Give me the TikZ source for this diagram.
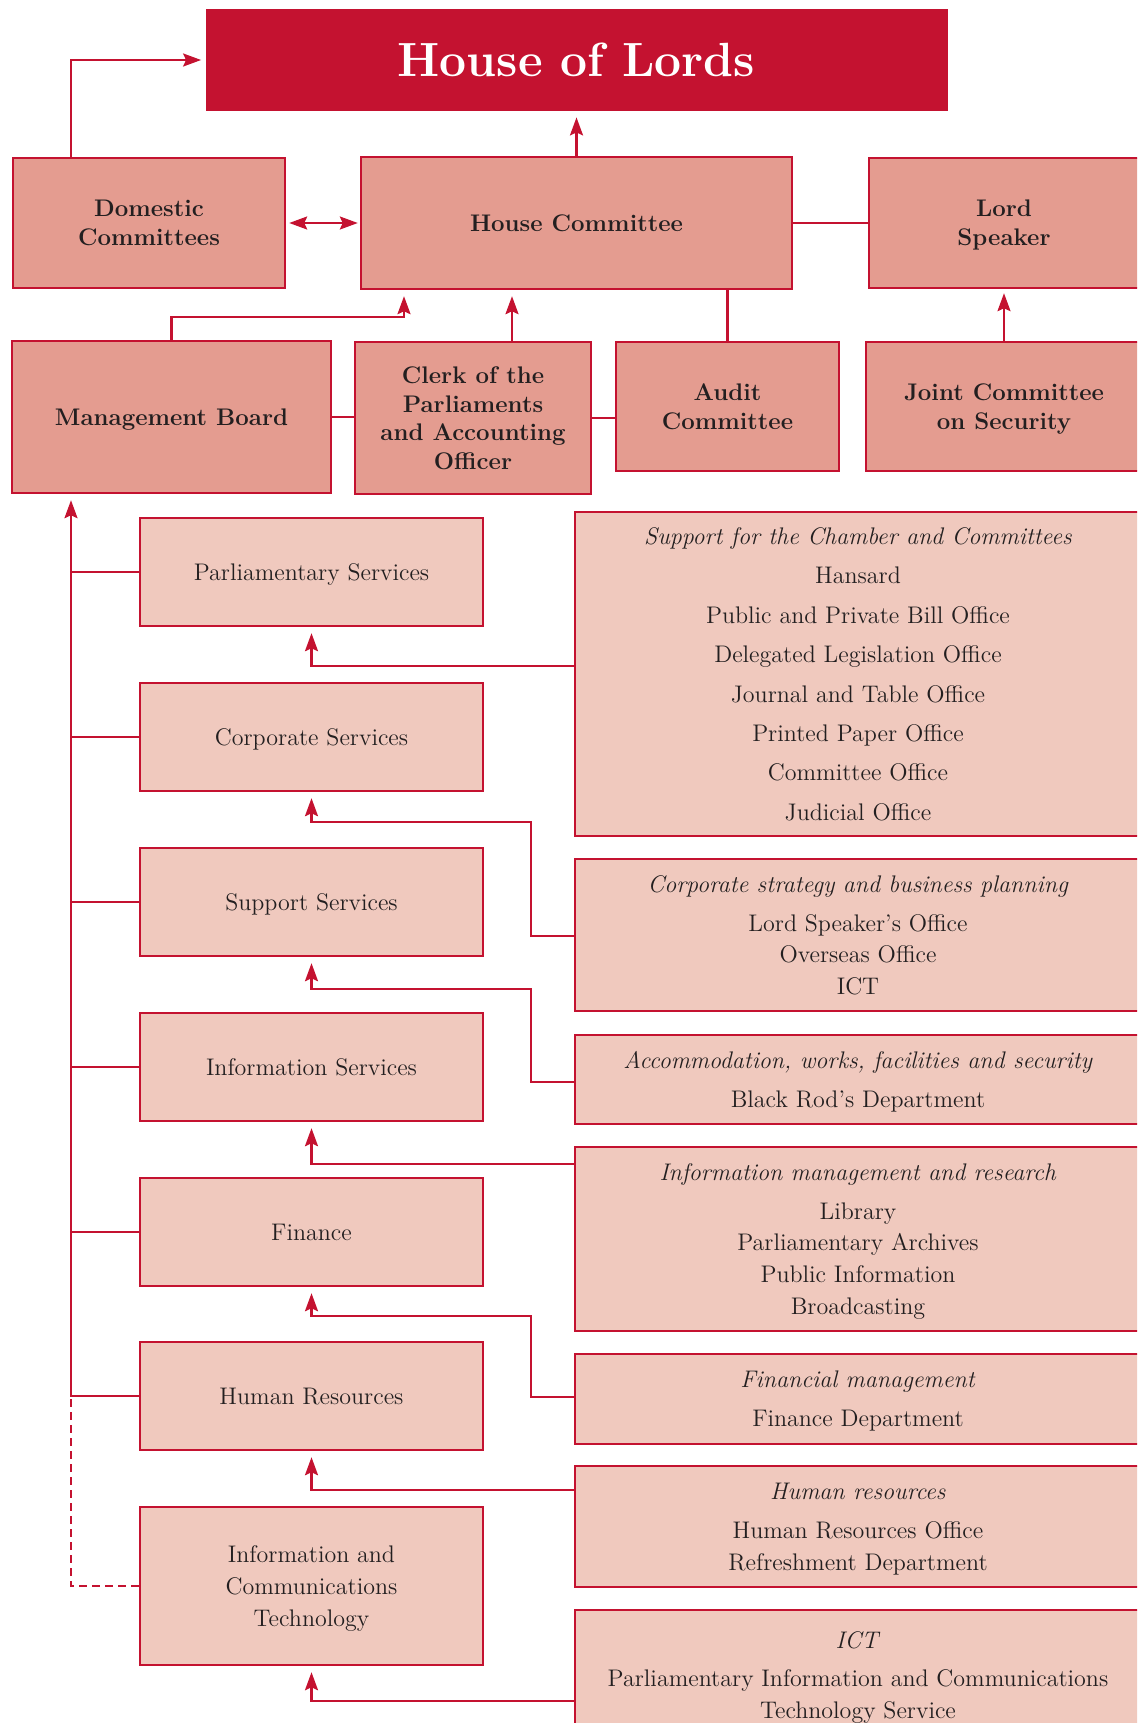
\documentclass[tikz,border=0pt]{standalone}
\usepackage{tikz}
\usetikzlibrary{positioning,calc,arrows.meta}
\definecolor{lordsred}{RGB}{196,18,48}
\definecolor{topfill}{RGB}{228,156,144}
\definecolor{subfill}{RGB}{240,201,190}
\definecolor{inktext}{RGB}{35,31,32}
\tikzset{
  topbox/.style={draw=lordsred,line width=1.2pt,fill=topfill,text=inktext,align=center,inner sep=0pt,text depth=0pt,font=\fontsize{12}{14.4}\selectfont\bfseries},
  unitbox/.style={draw=lordsred,line width=1.2pt,fill=subfill,text=inktext,align=center,inner sep=0pt,text depth=0pt,minimum width=171.5pt,font=\fontsize{12}{15.9}\selectfont},
  groupbox/.style={unitbox,minimum width=283pt},
  link/.style={draw=lordsred,line width=1.15pt},
  redtip/.tip={Stealth[length=9pt,width=6.5pt,inset=1.5pt]},
  arr/.style={link,-redtip,shorten >=3pt}
}
\begin{document}
\begin{tikzpicture}[x=0.5pt,y=-0.5pt]
  \useasboundingbox (0,0) rectangle (1137,1723);
  \clip (0,0) rectangle (1137,1723);
  \node[fill=lordsred,minimum width=371pt,minimum height=51pt,text=white,font=\fontsize{24}{28}\selectfont\bfseries] (hol) at (576.5,60) {House of Lords};
  \node[topbox,minimum width=136pt,minimum height=65pt] (dom) at (149,223) {Domestic\\Committees};
  \node[topbox,minimum width=215.5pt,minimum height=66pt] (hc) at (576.5,223) {House Committee};
  \node[topbox,minimum width=135pt,minimum height=65pt] (ls) at (1004,223) {Lord\\Speaker};
  \node[topbox,minimum width=159.5pt,minimum height=76pt] (mb) at (171.5,417) {Management Board};
  \node[topbox,minimum width=118pt,minimum height=76pt] (clerk) at (473,418) {Clerk of the\\Parliaments\\and Accounting\\Officer};
  \node[topbox,minimum width=111.5pt,minimum height=64.5pt] (audit) at (727.5,406.5) {Audit\\Committee};
  \node[topbox,minimum width=138pt,minimum height=64.5pt] (jcs) at (1004,406.5) {Joint Committee\\on Security};
  \foreach \n/\y/\t in {ps/572/Parliamentary Services,cs/737/Corporate Services,ss/902/Support Services,is/1067/Information Services,fin/1232/Finance,hr/1396/Human Resources}
    {\node[unitbox,minimum height=54pt] (\n) at (311.5,\y) {\t};}
  \node[unitbox,minimum height=79pt] (ict) at (311.5,1586) {Information and\\Communications\\Technology};
  \node[groupbox,minimum height=162pt,font=\fontsize{12}{19.7}\selectfont] (r1) at (858,674) {\textit{Support for the Chamber and Committees}\\Hansard\\Public and Private Bill Office\\Delegated Legislation Office\\Journal and Table Office\\Printed Paper Office\\Committee Office\\Judicial Office};
  \node[groupbox,minimum height=76pt] (r2) at (858,935) {\textit{Corporate strategy and business planning}\\[3.5pt]Lord Speaker’s Office\\Overseas Office\\ICT};
  \node[groupbox,minimum height=44.5pt] (r3) at (858,1079.5) {\textit{Accommodation, works, facilities and security}\\[3.5pt]Black Rod’s Department};
  \node[groupbox,minimum height=92pt] (r4) at (858,1239) {\textit{Information management and research}\\[3.5pt]Library\\Parliamentary Archives\\Public Information\\Broadcasting};
  \node[groupbox,minimum height=45pt] (r5) at (858,1399) {\textit{Financial management}\\[3.5pt]Finance Department};
  \node[groupbox,minimum height=60.5pt] (r6) at (858,1526.5) {\textit{Human resources}\\[3.5pt]Human Resources Office\\Refreshment Department};
  \node[groupbox,minimum height=65pt] (r7) at (858,1675) {\textit{ICT}\\[3.5pt]Parliamentary Information and Communications\\Technology Service};
  \coordinate (spine) at (mb.south -| 71,0);
  \draw[arr,shorten >=2pt] (dom.north -| spine) |- (hol.west);
  \draw[arr] (hc.north) -- (hc.north |- hol.south);
  \draw[link,redtip-redtip,shorten <=1.5pt,shorten >=1pt] (dom.east) -- (hc.west);
  \draw[link] (hc.east) -- (ls.west);
  \draw[arr] (mb.north) |- (404,317) -- (hc.south -| 404,0);
  \draw[arr] (clerk.north -| 512,0) -- (hc.south -| 512,0);
  \draw[link] (audit.north) -- (audit.north |- hc.south);
  \draw[arr,shorten >=2pt] (jcs.north) -- (jcs.north |- ls.south);
  \draw[link] (mb.east) -- (mb.east -| clerk.west);
  \draw[link] (clerk.east) -- (clerk.east -| audit.west);
  \draw[arr] (hr.west) -| (spine);
  \foreach \n in {ps,cs,ss,is,fin}
    {\draw[link] (\n.west) -- (\n.west -| spine);}
  \draw[link,dash pattern=on 4pt off 2.5pt] (ict.west) -| (hr.west -| spine);
  \foreach \r/\y/\l in {r1/666/ps,r4/1164/is,r6/1490/hr,r7/1701/ict}
    {\draw[arr] (\r.west |- 0,\y) -| (\l.south);}
  \foreach \r/\y/\b/\l in {r2/936/822/cs,r3/1082/989/ss,r5/1397/1316/fin}
    {\draw[arr] (\r.west |- 0,\y) -| (531,\b) -| (\l.south);}
\end{tikzpicture}
\end{document}
